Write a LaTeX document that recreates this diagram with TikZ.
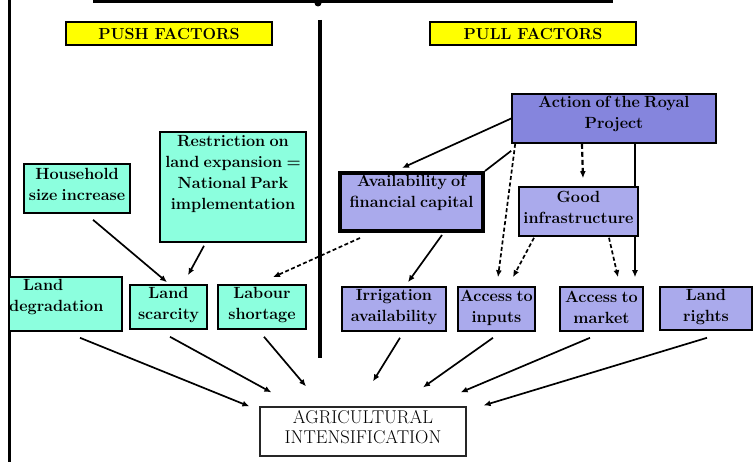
\documentclass[tikz,border=0pt]{standalone}
\usepackage{fontspec}
\newfontfamily\boxfont{Latin Modern Roman}[WordSpace=0.7]
\usetikzlibrary{arrows.meta,backgrounds}
\definecolor{pushc}{RGB}{140,255,222}
\definecolor{actc}{RGB}{133,133,221}
\definecolor{pullc}{RGB}{170,170,236}
\definecolor{yel}{RGB}{255,255,0}
\tikzset{
  box/.style={draw=black,line width=1.6pt,rectangle,inner sep=0pt},
  pushbox/.style={box,fill=pushc},
  pullbox/.style={box,fill=pullc},
  tbox/.style={box,fill=yel,font=\fontsize{16}{18}\selectfont\bfseries},
  txt/.style={inner sep=0pt,align=center,font=\boxfont\fontsize{16.2}{21}\selectfont\bfseries},
  arr/.style={-{Latex[length=7pt,width=6pt]},line width=1.7pt},
  darr/.style={arr,dash pattern=on 4pt off 2.5pt},
  frame/.style={line width=3.4pt}
}
\begin{document}
\begin{tikzpicture}[x=1pt,y=-1pt]
\useasboundingbox (0,0) rectangle (756,462);
% frame lines
\draw[frame] (93,1.5) -- (613,1.5);
\fill (318,3) circle (3.5pt);
\draw[frame] (9.5,0) -- (9.5,462);
\draw[frame] (320,20) -- (320,358);
% headers
\node[tbox,minimum width=206,minimum height=23] (push) at (169,33.5) {PUSH FACTORS};
\node[tbox,minimum width=206,minimum height=23] (pull) at (533,33.5) {PULL FACTORS};
% push boxes
\node[pushbox,minimum width=106,minimum height=49] (house) at (77,188.5) {};
\node[txt] (houset) at (77,184.5) {Household\\size increase};
\node[pushbox,minimum width=146,minimum height=110] (restr) at (233,187) {};
\node[txt] (restrt) at (233,174.5) {Restriction on\\land expansion =\\National Park\\implementation};
\node[pushbox,minimum width=113,minimum height=54] (degr) at (65.5,304) {};
\node[txt,align=left,anchor=west] (degrt) at (9,297.5) {\hspace*{14pt}Land\\degradation};
\node[pushbox,minimum width=77,minimum height=44] (scarc) at (168.5,307) {};
\node[txt] (scarct) at (168.5,305.5) {Land\\scarcity};
\node[pushbox,minimum width=88,minimum height=44] (labour) at (262,307) {};
\node[txt] (labourt) at (262,305.5) {Labour\\shortage};
% pull boxes
\node[box,fill=actc,minimum width=204,minimum height=49] (action) at (614,118.5) {};
\node[txt] (actiont) at (614,113.5) {Action of the Royal\\Project};
\node[pullbox,line width=4pt,minimum width=143,minimum height=58] (avail) at (411.5,202) {};
\node[txt] (availt) at (411.5,193) {Availability of\\financial capital};
\node[pullbox,minimum width=119,minimum height=49] (infra) at (578.5,211.5) {};
\node[txt] (infrat) at (578.5,207.5) {Good\\infrastructure};
\node[pullbox,minimum width=104,minimum height=44] (irrig) at (394,309) {};
\node[txt] (irrigt) at (394,307.5) {Irrigation\\availability};
\node[pullbox,minimum width=77,minimum height=44] (inputs) at (496.5,309) {};
\node[txt] (inputst) at (496.5,307.5) {Access to\\inputs};
\node[pullbox,minimum width=83,minimum height=44] (market) at (601.5,309) {};
\node[txt] (market-t) at (601.5,307.5) {Access to\\market};
\node[pullbox,minimum width=92,minimum height=43] (rights) at (706,308.5) {};
\node[txt] (rightst) at (706,307.5) {Land\\rights};
% outcome
\node[draw=black!85,line width=1.2pt,minimum width=206,minimum height=49,inner sep=0pt] (agri) at (363,431.5) {};
\node[inner sep=0pt,align=center,font=\fontsize{18.5}{20.5}\selectfont] (agrit) at (363,427) {AGRICULTURAL\\INTENSIFICATION};
% connector behind infrastructure
\begin{pgfonlayer}{background}
\draw[-{Latex[length=7pt,width=6pt]},line width=1.3pt] ([xshift=21pt]action.south) -- ([xshift=33.5pt,yshift=9pt]market.north);
\end{pgfonlayer}
% push connectors
\draw[arr] ([xshift=16pt,yshift=-6pt]house.south) -- ([xshift=-1.5pt,yshift=2pt]scarc.north);
\draw[arr] ([xshift=-29pt,yshift=-3pt]restr.south) -- ([xshift=19.5pt,yshift=9pt]scarc.north);
\draw[darr] ([xshift=-51.5pt,yshift=-5pt]avail.south) -- ([xshift=11pt,yshift=7pt]labour.north);
% pull connectors
\draw[arr] (action.west) -- ([xshift=-9.5pt,yshift=3pt]avail.north);
\draw[line width=1.7pt] ([yshift=-7pt]action.south west) -- (avail.north east);
\draw[darr] ([xshift=4pt]action.south west) -- ([xshift=1.5pt,yshift=9pt]inputs.north);
\draw[darr,dash pattern=on 5pt off 3pt,line width=2.2pt] ([xshift=-32pt]action.south) -- ([xshift=4.5pt,yshift=8pt]infra.north);
\draw[darr] ([xshift=-44.5pt,yshift=-1pt]infra.south) -- ([xshift=16.5pt,yshift=9pt]inputs.north);
\draw[darr] ([xshift=30.5pt,yshift=-1pt]infra.south) -- ([xshift=16.5pt,yshift=9pt]market.north);
\draw[arr] ([xshift=30.5pt,yshift=-2pt]avail.south) -- ([xshift=14pt,yshift=4pt]irrig.north);
% to agricultural intensification
\draw[arr] ([xshift=14.5pt,yshift=-6pt]degr.south) -- ([xshift=-10pt]agri.north west);
\draw[arr] ([xshift=1.5pt,yshift=-7pt]scarc.south) -- ([xshift=12pt,yshift=14pt]agri.north west);
\draw[arr] ([xshift=2pt,yshift=-7pt]labour.south) -- ([xshift=-57pt,yshift=20pt]agri.north);
\draw[arr] ([xshift=6pt,yshift=-6pt]irrig.south) -- ([xshift=10pt,yshift=25pt]agri.north);
\draw[arr] ([xshift=-3.5pt,yshift=-6pt]inputs.south) -- ([xshift=60pt,yshift=19pt]agri.north);
\draw[arr] ([xshift=-11.5pt,yshift=-6pt]market.south) -- ([xshift=-6pt,yshift=14pt]agri.north east);
\draw[arr] ([xshift=1pt,yshift=-7pt]rights.south) -- ([xshift=17pt,yshift=1pt]agri.north east);
\end{tikzpicture}
\end{document}
